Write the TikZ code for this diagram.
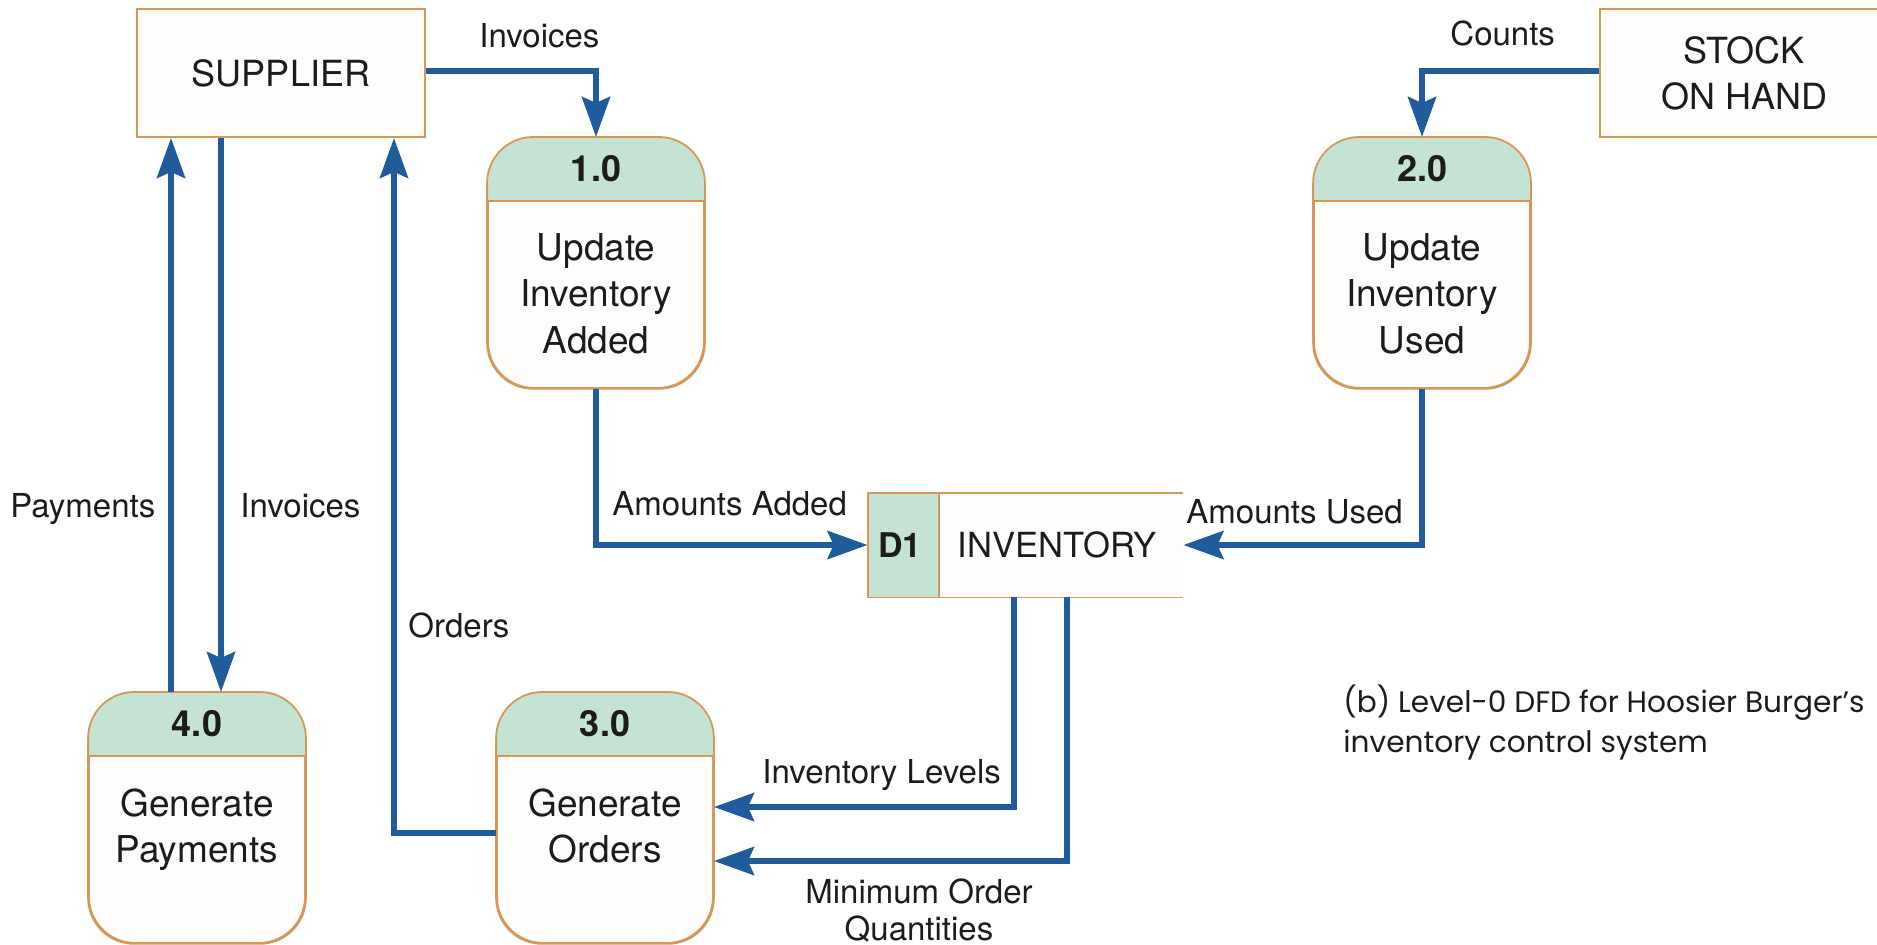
\documentclass[tikz,border=0pt]{standalone}
\usepackage{fontspec}
\setmainfont{TeX Gyre Heros}
\newfontfamily\capfont{Poppins}
\usetikzlibrary{arrows.meta}
\definecolor{flowblue}{RGB}{32,91,156}
\definecolor{edgeor}{RGB}{214,152,88}
\definecolor{hdr}{RGB}{197,227,211}
\definecolor{paper}{RGB}{255,253,251}
\definecolor{ink}{RGB}{28,28,28}
\tikzset{
  flow/.style={draw=flowblue, line width=3pt, line join=miter,
    -{Stealth[length=20pt,width=14pt,inset=3pt]}},
  entity/.style={draw=edgeor, line width=0.9pt, fill=paper, rectangle, inner sep=0pt,
    align=center, font=\fontsize{18pt}{23pt}\selectfont, text=ink},
  procbox/.style={draw=edgeor, line width=0.9pt, fill=paper, rectangle, rounded corners=23pt,
    minimum width=108pt, minimum height=125pt, inner sep=0pt, anchor=north},
  pnum/.style={font=\bfseries\fontsize{18pt}{22pt}\selectfont, inner sep=0pt, text=ink},
  ptext/.style={font=\fontsize{18.5pt}{23.25pt}\selectfont, align=center, inner sep=0pt,
    anchor=north, text=ink},
  lbl/.style={font=\fontsize{16.5pt}{18.5pt}\selectfont, inner sep=0pt, text=ink},
  storeline/.style={draw=edgeor, line width=0.9pt},
}
\newcommand{\dfdproc}[5]{%
  \node[procbox] (#1) at (#2,#3) {};
  \begin{scope}
    \clip[rounded corners=23pt] (#1.north west) rectangle (#1.south east);
    \fill[hdr] (#1.north west) rectangle ([yshift=-32pt]#1.north east);
  \end{scope}
  \draw[storeline, rounded corners=23pt] (#1.north west) rectangle (#1.south east);
  \draw[storeline] ([yshift=-32pt]#1.north west) -- ([yshift=-32pt]#1.north east);
  \node[pnum] (#1num) at ([yshift=-16pt]#1.north) {#4};
  \node[ptext] (#1txt) at ([yshift=-48pt]#1.north) {#5};
}
\begin{document}
\begin{tikzpicture}[x=0.5pt,y=-0.5pt]
\useasboundingbox (0,0) rectangle (1877,944);

% external entities
\node[entity, minimum width=144pt, minimum height=64pt] (sup) at (281,73) {SUPPLIER};
\node[entity, minimum width=144pt, minimum height=64pt] (stock) at (1744,73) {STOCK\\ON HAND};

% processes
\dfdproc{p1}{596}{137}{1.0}{Update\\Inventory\\Added}
\dfdproc{p2}{1422}{137}{2.0}{Update\\Inventory\\Used}
\dfdproc{p3}{605}{692}{3.0}{Generate\\Orders}
\dfdproc{p4}{197}{692}{4.0}{Generate\\Payments}

% data store
\node[inner sep=0pt, minimum width=157.5pt, minimum height=52pt] (inv) at (1025.5,545) {};
\fill[paper] (inv.south west) rectangle (inv.north east);
\fill[hdr] (inv.south west) rectangle (inv.north west -| 939,0);
\draw[storeline] (inv.north east) -- (inv.north west) -- (inv.south west) -- (inv.south east);
\draw[storeline] (inv.north west -| 939,0) -- (inv.south west -| 939,0);
\node[pnum, font=\bfseries\fontsize{17pt}{20pt}\selectfont] (d1) at (900,545) {D1};
\node[inner sep=0pt, font=\fontsize{17.3pt}{20pt}\selectfont, text=ink] (invname) at (1057,545) {INVENTORY};

% flows
\draw[flow] (sup.east |- 0,71) -| (p1.north);
\draw[flow] (stock.west |- 0,71) -| (p2.north);
\draw[flow] (p1.south) |- (inv.west);
\draw[flow] (p2.south) |- (inv.east);
\draw[flow] (inv.south -| 1014,0) |- (p3.east |- 0,807);
\draw[flow] (inv.south -| 1067,0) |- (p3.east |- 0,861);
\draw[flow] (p3.west |- 0,833) -| (sup.south -| 394,0);
\draw[flow] (p4.north -| 171,0) -- (sup.south -| 171,0);
\draw[flow] (sup.south -| 221,0) -- (p4.north -| 221,0);

% labels
\node[lbl, anchor=base west] (lInvTop) at (479,47) {Invoices};
\node[lbl, anchor=base west] (lCounts) at (1450,45) {Counts};
\node[lbl, anchor=base west] (lPay) at (10,517) {Payments};
\node[lbl, anchor=base west] (lInvLeft) at (240,517) {Invoices};
\node[lbl, anchor=base west] (lOrd) at (408,637) {Orders};
\node[lbl, anchor=base west] (lAA) at (612,515) {Amounts Added};
\node[lbl, anchor=base west] (lAU) at (1186,523) {Amounts Used};
\node[lbl, anchor=base west] (lIL) at (762,783) {Inventory Levels};
\node[lbl, anchor=north, align=center] (lMOQ) at (919,878) {Minimum Order\\Quantities};

% caption
\node[anchor=north west, inner sep=0pt, align=left, text=ink,
  font=\capfont\fontsize{14.8pt}{20pt}\selectfont] (cap) at (1343,684)
  {(b) Level-0 DFD for Hoosier Burger’s\\inventory control system};
\end{tikzpicture}
\end{document}
